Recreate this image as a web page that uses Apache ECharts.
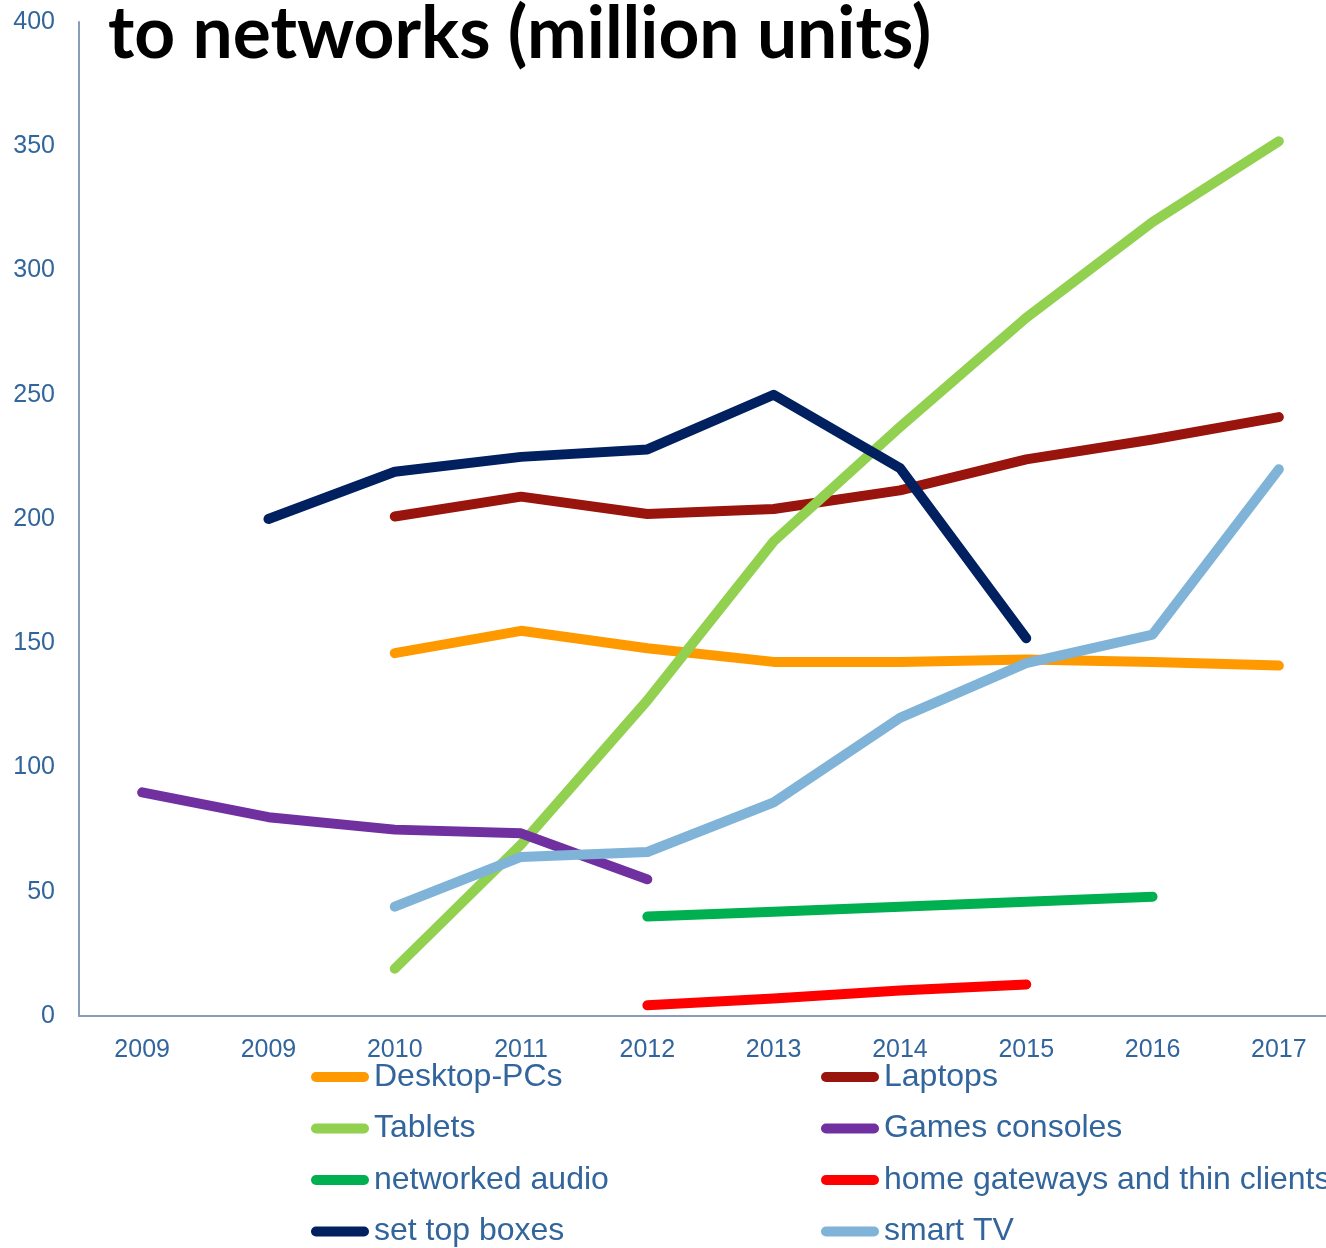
<!DOCTYPE html>
<html>
<head>
<meta charset="utf-8">
<script src="https://cdn.jsdelivr.net/npm/echarts@6/dist/echarts.min.js"></script>
<style>
  html, body { margin: 0; padding: 0; background: #fff; }
  #chart { width: 1326px; height: 1248px; }
</style>
</head>
<body>
<div id="chart"></div>
<script>
// Years on the horizontal axis (the first year appears twice in the source table)
const years = ['2009', '2009', '2010', '2011', '2012', '2013', '2014', '2015', '2016', '2017'];

// Devices connected to networks, million units (null = no figure for that year)
const desktopPCs     = [null, null, 146, 155, 148, 142.5, 142.5, 143.5, 142.5, 141];
const laptops        = [null, null, 201, 209, 202, 204, 211.5, 224, 232, 241];
const tablets        = [null, null, 19, 69, 127, 191, 237, 281, 319.5, 352];
const gamesConsoles  = [90, 80, 75, 73.5, 55, null, null, null, null, null];
const networkedAudio = [null, null, null, null, 40, 42, 44, 46, 48, null];
const homeGateways   = [null, null, null, null, 4.3, 7, 10.3, 12.7, null, null];
const setTopBoxes    = [null, 200, 219, 225, 228, 250, 220.5, 152, null, null];
const smartTV        = [null, null, 44, 64, 66, 86, 120, 142, 153.5, 220];

const seriesDefs = [
  { name: 'Desktop-PCs', data: desktopPCs, color: '#FF9900' },
  { name: 'Laptops', data: laptops, color: '#98140C' },
  { name: 'Tablets', data: tablets, color: '#92D050' },
  { name: 'Games consoles', data: gamesConsoles, color: '#7030A0' },
  { name: 'networked audio', data: networkedAudio, color: '#00B050' },
  { name: 'home gateways and thin clients', data: homeGateways, color: '#FF0000' },
  { name: 'set top boxes', data: setTopBoxes, color: '#002060' },
  { name: 'smart TV', data: smartTV, color: '#7FB3D7' }
];

const labelColor = '#31659C';
const axisColor = '#8A9DB8';
const capsule = 'path://M5,0 L53,0 A5,5 0 0 1 53,10 L5,10 A5,5 0 0 1 5,0 Z';

// Legend grid: two columns, four rows; series fill column by column in this order
const legendColumns = [311, 821];
const legendRows = [1077, 1128.5, 1180, 1231.5];
const legendOrder = [
  ['Desktop-PCs', 'Tablets', 'networked audio', 'set top boxes'],
  ['Laptops', 'Games consoles', 'home gateways and thin clients', 'smart TV']
];

const legends = [];
legendOrder.forEach((col, ci) => {
  col.forEach((name, ri) => {
    legends.push({
      orient: 'horizontal',
      left: legendColumns[ci],
      top: legendRows[ri] - 16,
      padding: 0,
      icon: capsule,
      itemWidth: 58,
      itemHeight: 11,
      selectedMode: false,
      data: [name],
      textStyle: {
        color: labelColor,
        fontFamily: 'Liberation Sans, Arial, sans-serif',
        fontSize: 32,
        lineHeight: 32
      }
    });
  });
});

const chart = echarts.init(document.getElementById('chart'), null, { renderer: 'canvas' });

chart.setOption({
  backgroundColor: '#ffffff',
  animation: false,
  graphic: [{
    type: 'text',
    left: 108,
    top: -1,
    scaleX: 0.99,
    style: {
      text: 'to networks (million units)',
      font: 'bold 72px Lato, "Open Sans", sans-serif',
      fill: '#000000'
    }
  }],
  legend: legends,
  grid: {
    left: 79,
    top: 22,
    right: -16,
    bottom: 232,
    containLabel: false,
    outerBoundsMode: 'none'
  },
  xAxis: {
    type: 'category',
    data: years,
    boundaryGap: true,
    axisLine: { show: true, lineStyle: { color: axisColor, width: 2 } },
    axisTick: { show: false },
    axisLabel: {
      color: labelColor,
      fontFamily: 'Liberation Sans, Arial, sans-serif',
      fontSize: 25,
      margin: 22
    },
    splitLine: { show: false }
  },
  yAxis: {
    type: 'value',
    min: 0,
    max: 400,
    interval: 50,
    axisLine: { show: true, lineStyle: { color: axisColor, width: 2 } },
    axisTick: { show: false },
    axisLabel: {
      color: labelColor,
      fontFamily: 'Liberation Sans, Arial, sans-serif',
      fontSize: 25,
      margin: 24
    },
    splitLine: { show: false }
  },
  series: seriesDefs.map(s => ({
    name: s.name,
    type: 'line',
    data: s.data,
    showSymbol: false,
    symbol: 'none',
    connectNulls: false,
    color: s.color,
    lineStyle: { color: s.color, width: 10, cap: 'round', join: 'round' },
    itemStyle: { color: s.color },
    emphasis: { disabled: true }
  }))
});
</script>
</body>
</html>
